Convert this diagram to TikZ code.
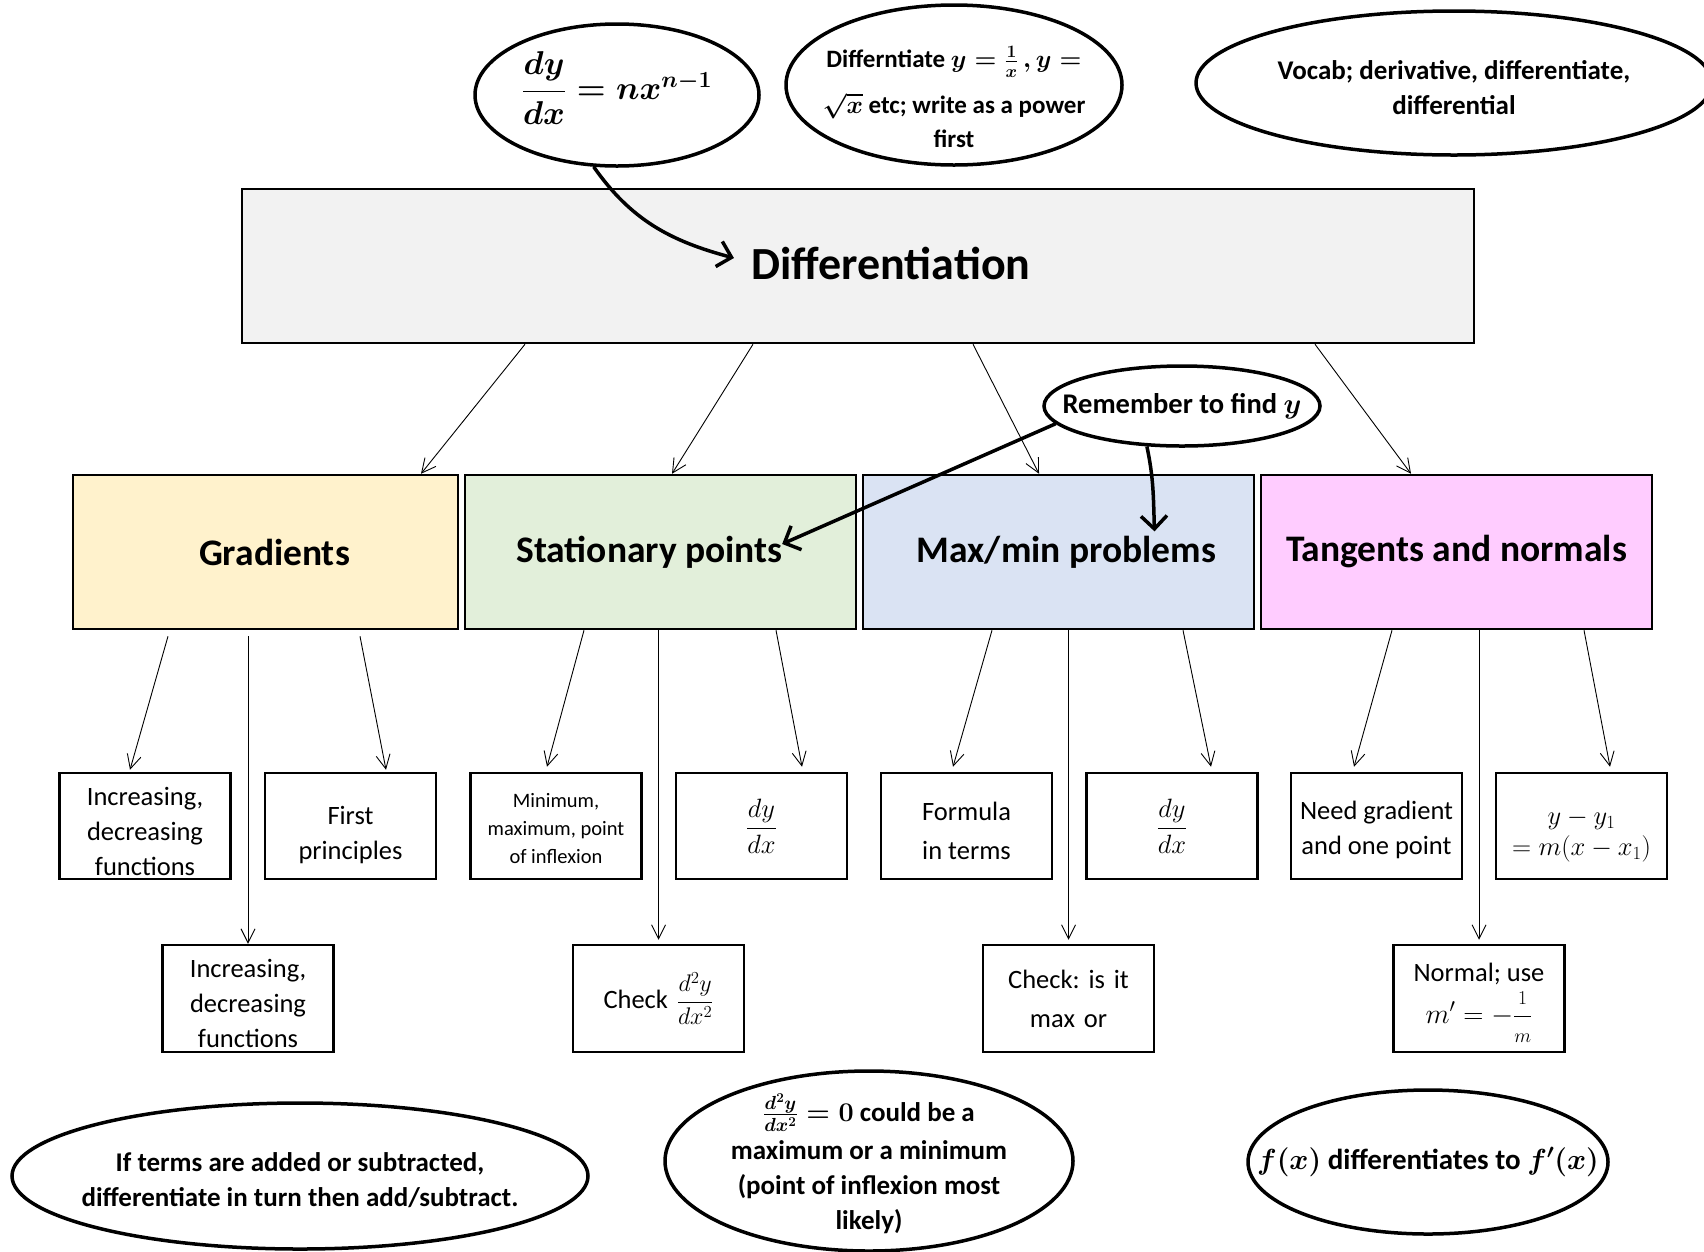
\documentclass[tikz,border=0pt]{standalone}
\usepackage{fix-cm}
\usepackage{amsmath}
\usepackage{fontspec}
\setmainfont{Carlito}
\frenchspacing
\usetikzlibrary{shapes.geometric,arrows.meta}
\definecolor{maingray}{RGB}{242,242,242}
\definecolor{gradfill}{RGB}{255,242,204}
\definecolor{statfill}{RGB}{226,239,218}
\definecolor{maxfill}{RGB}{218,227,243}
\definecolor{tangfill}{RGB}{255,204,255}
\tikzset{
  bubble/.style={draw, ellipse, line width=3.5pt, inner sep=0pt},
  btext/.style={font=\fontsize{27}{35}\selectfont\bfseries\boldmath, align=center},
  catbox/.style={draw, line width=2.5pt, minimum width=385, minimum height=154,
    font=\fontsize{37.5}{44}\selectfont\bfseries},
  leafbox/.style={draw, line width=2.5pt, minimum width=171, minimum height=106,
    inner sep=1pt, align=center, font=\fontsize{26.5}{35}\selectfont},
  thinarrow/.style={line width=0.9pt, -{Straight Barb[length=14pt,width=14pt,line width=0.9pt]}},
  thickarrow/.style={line width=3.5pt, -{Straight Barb[length=13pt,width=26pt,line width=3.5pt]}},
}
\begin{document}
\begin{tikzpicture}[x=1pt,y=1pt]
\useasboundingbox (0,0) rectangle (1704,-1251);
% main box
\node[draw, fill=maingray, line width=2.5pt, minimum width=1232, minimum height=154,
  label={[name=difftext, xshift=33, yshift=3, font=\fontsize{46}{52}\selectfont\bfseries]center:Differentiation}] (main) at (858,-266) {};
% top bubbles
\node[bubble, minimum width=284, minimum height=142,
  label={[btext, name=dydxtext, font=\fontsize{33}{40}\selectfont\bfseries\boldmath, yshift=7]center:$\dfrac{dy}{dx}=nx^{n-1}$}] (dydx) at (617,-95) {};
\node[bubble, minimum width=336, minimum height=160,
  label={[btext, name=powtext, yshift=-12, font=\fontsize{25}{34}\selectfont\bfseries\boldmath]center:{Differntiate $y=\frac{1}{x}\,,y=$\\[12pt]$\sqrt{x}$ etc; write as a power\\first}}] (pow) at (954,-85) {};
\node[bubble, minimum width=516, minimum height=144,
  label={[btext, name=vocabtext, yshift=-5]center:{Vocab; derivative, differentiate,\\differential}}] (vocab) at (1454,-83) {};
% categories
\node[catbox, fill=gradfill, minimum width=385,
  label={[name=gradtext, xshift=9, font=\fontsize{37.5}{44}\selectfont\bfseries]center:Gradients}] (grad) at (265.5,-552) {};
\node[catbox, fill=statfill, minimum width=391,
  label={[name=stattext, xshift=-11, font=\fontsize{37.5}{44}\selectfont\bfseries]center:Stationary points}] (stat) at (660.5,-552) {};
\node[catbox, fill=maxfill, minimum width=391,
  label={[name=maxtext, xshift=8, font=\fontsize{37.5}{44}\selectfont\bfseries]center:Max/min problems}] (maxm) at (1058.5,-552) {};
\node[catbox, fill=tangfill, minimum width=391] (tang) at (1456.5,-552) {Tangents and normals};
% remember bubble
\node[bubble, minimum width=276, minimum height=80,
  label={[btext, name=remtext, font=\fontsize{28.5}{35}\selectfont\bfseries\boldmath]center:Remember to find $y$}] (rem) at (1182,-406) {};
% leaves level 3
\node[leafbox, text width=167, label={[name=inc1text, align=center, yshift=-5, font=\fontsize{26.5}{35}\selectfont]center:{Increasing,\\decreasing\\functions}}] (inc1) at (145,-826) {};
\node[leafbox, text width=167, label={[name=firsttext, align=center, yshift=-9, font=\fontsize{26.5}{35}\selectfont]center:{First\\principles}}] (first) at (350.5,-826) {};
\node[leafbox, text width=167, label={[name=minmaxtext, align=center, yshift=-3, font=\fontsize{20.5}{28}\selectfont]center:{Minimum,\\maximum, point\\of inflexion}}] (minmax) at (556,-826) {};
\node[leafbox, text width=167] (dydxa) at (761.5,-826) {$\dfrac{dy}{dx}$};
\node[leafbox, text width=167, label={[name=formulatext, align=center, yshift=-5, font=\fontsize{26.5}{39}\selectfont]center:{Formula\\in terms}}] (formula) at (966.5,-826) {};
\node[leafbox, text width=167] (dydxb) at (1172,-826) {$\dfrac{dy}{dx}$};
\node[leafbox, text width=169, label={[name=needtext, align=center, yshift=-4, font=\fontsize{26.5}{35}\selectfont]center:{Need gradient\\and one point}}] (need) at (1376.5,-826) {};
\node[leafbox, text width=167, label={[name=linetext, align=center, yshift=-10, font=\fontsize{26.5}{31}\selectfont]center:{$y-y_1$\\$=m(x-x_1)$}}] (line) at (1581.5,-826) {};
% leaves level 4
\node[leafbox, text width=167, minimum height=107, label={[name=inc2text, align=center, yshift=-4.5, font=\fontsize{26.5}{35}\selectfont]center:{Increasing,\\decreasing\\functions}}] (inc2) at (248,-998.5) {};
\node[leafbox, text width=167, minimum height=107] (check) at (658.5,-998.5) {Check {\fontsize{24}{30}\selectfont$\dfrac{d^2y}{dx^2}$}};
\node[leafbox, text width=167, minimum height=107, font=\fontsize{26.5}{39}\selectfont] (ismax) at (1068.5,-998.5) {Check: is it\\max or};
\node[leafbox, text width=167, minimum height=107, label={[name=normaltext, align=center, yshift=-4, font=\fontsize{26.5}{38}\selectfont]center:{Normal; use\\[4pt]{\fontsize{28}{30}\selectfont$m'=-\dfrac{\scriptstyle 1}{\scriptstyle m}$}}}] (normal) at (1479,-998.5) {};
% bottom bubbles
\node[bubble, minimum width=576, minimum height=146,
  label={[btext, name=addtext, yshift=-4]center:{If terms are added or subtracted,\\differentiate in turn then add/subtract.}}] (add) at (300,-1176) {};
\node[bubble, minimum width=408, minimum height=180,
  label={[btext, name=zerotext, font=\fontsize{27}{35}\selectfont\bfseries\boldmath, yshift=-3]center:{$\frac{d^2y}{dx^2}=0$ could be a\\[3pt]maximum or a minimum\\(point of inflexion most\\likely)}}] (zero) at (869,-1161) {};
\node[bubble, minimum width=360, minimum height=144,
  label={[btext, name=ftext, font=\fontsize{29}{35}\selectfont\bfseries\boldmath]center:{$f(x)$ differentiates to $f'(x)$}}] (fx) at (1428,-1162) {};
% connectors main -> categories
\draw[thinarrow] ([xshift=-333]main.south) -- ([xshift=155.5]grad.north);
\draw[thinarrow] ([xshift=-105]main.south) -- ([xshift=11.5]stat.north);
\draw[thinarrow] ([xshift=115]main.south) -- ([xshift=-19.5]maxm.north);
\draw[thinarrow] ([xshift=457]main.south) -- ([xshift=-45.5]tang.north);
% categories -> leaves
\draw[thinarrow] ([xshift=-97.5,yshift=-6]grad.south) -- ([xshift=-15,yshift=2]inc1.north);
\draw[thinarrow] ([yshift=-6]grad.south -| inc2.north) -- (inc2.north);
\draw[thinarrow] ([xshift=94.5,yshift=-6]grad.south) -- ([xshift=35.5,yshift=2]first.north);
\draw[thinarrow] ([xshift=-76.5]stat.south) -- ([xshift=-9,yshift=5]minmax.north);
\draw[thinarrow] (stat.south -| check.north) -- ([yshift=4]check.north);
\draw[thinarrow] ([xshift=115.5]stat.south) -- ([xshift=40.5,yshift=5]dydxa.north);
\draw[thinarrow] ([xshift=-66.5]maxm.south) -- ([xshift=-13.5,yshift=5]formula.north);
\draw[thinarrow] (maxm.south -| ismax.north) -- ([yshift=4]ismax.north);
\draw[thinarrow] ([xshift=124.5]maxm.south) -- ([xshift=39,yshift=5]dydxb.north);
\draw[thinarrow] ([xshift=-64.5]tang.south) -- ([xshift=-22.5,yshift=5]need.north);
\draw[thinarrow] (tang.south -| normal.north) -- ([yshift=4]normal.north);
\draw[thinarrow] ([xshift=127.5]tang.south) -- ([xshift=28.5,yshift=5]line.north);
% thick arrows
\draw[thickarrow] (dydx.252) to[out=-55, in=165] ([xshift=-14,yshift=5]difftext.west);
\draw[thickarrow] (rem.188) -- ([xshift=-4,yshift=8]stattext.east);
\draw[thickarrow] (rem.229) to[out=-78, in=92] ([xshift=88,yshift=1]maxtext.north);
\end{tikzpicture}
\end{document}
